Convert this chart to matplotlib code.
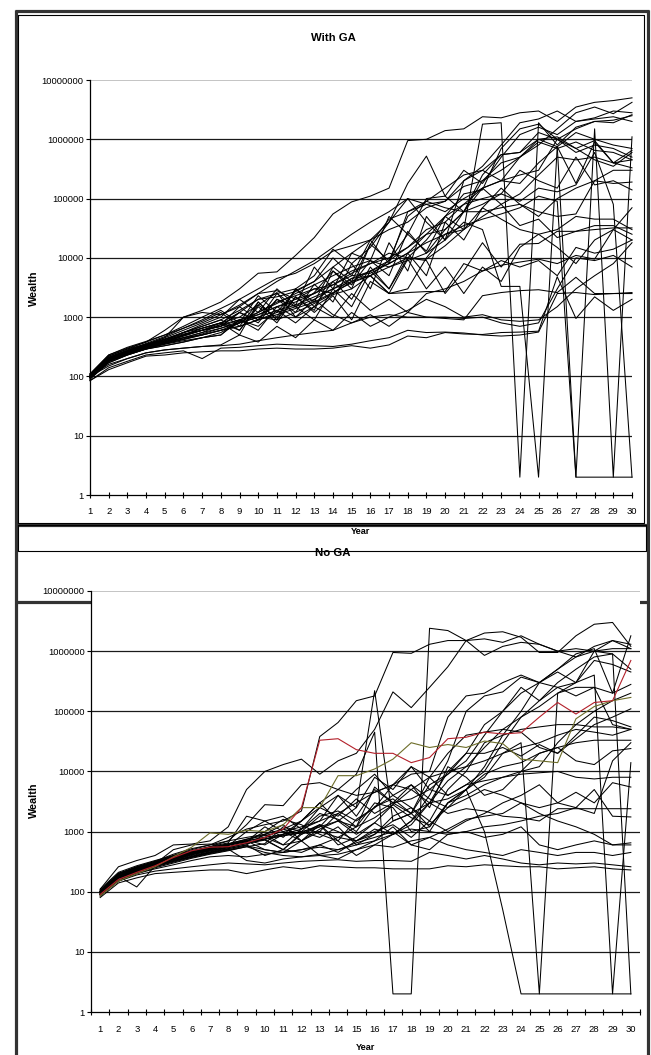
import matplotlib
matplotlib.use("Agg")
import matplotlib.pyplot as plt
from matplotlib.ticker import FixedLocator, FixedFormatter, NullLocator

plt.rcParams['font.family'] = ['Liberation Sans', 'DejaVu Sans']

years = list(range(1, 31))
ytick_vals = [1, 10, 100, 1000, 10000, 100000, 1000000, 10000000]
ytick_labels = ["1", "10", "100", "1000", "10000", "100000", "1000000", "10000000"]
xtick_labels = [str(y) for y in years]
title_top = "With GA"
title_bottom = "No GA"
xlabel = "Year"
ylabel = "Wealth"

# ---------------- With GA ----------------
ga_01 = [100,220,290,380,600,1000,1300,1800,3000,5500,5800,11000,22000,55000,88000,110000,150000,950000,1000000,1400000,1500000,2400000,2300000,2800000,3000000,2000000,3500000,4200000,4500000,5000000]
ga_02 = [100,200,260,330,400,500,650,800,1200,2000,2200,2700,4000,7000,12000,20000,40000,180000,520000,110000,60000,250000,550000,600000,1000000,1100000,700000,950000,400000,450000]
ga_03 = [95,180,240,290,330,380,450,550,800,1200,1800,2300,3000,3500,5500,8000,12000,10000,9500,16000,30000,1800000,1900000,2,1900000,800000,1600000,2000000,1900000,2600000]
ga_04 = [100,190,250,310,360,420,500,600,700,900,1100,1400,1800,2600,3800,5000,7000,9000,12000,20000,40000,30000,3300,3300,2,750000,180000,900000,400000,650000]
ga_05 = [100,200,260,320,380,450,500,600,700,900,1200,1500,2000,3000,4500,6000,9000,15000,30000,40000,80000,150000,200000,180000,400000,750000,2,2,2,2]
ga_06 = [105,200,260,330,400,500,600,700,900,1100,1500,2000,2500,3500,5000,5500,8000,12000,18000,25000,35000,45000,55000,70000,110000,90000,2,1500000,2,1100000]
ga_07 = [95,180,250,310,370,430,520,650,850,1100,1500,1800,2500,4000,6000,8000,10000,15000,25000,50000,80000,100000,120000,90000,150000,130000,170000,600000,80000,2]
ga_08 = [85,130,170,220,230,250,260,270,270,290,300,290,290,300,330,300,340,480,450,550,520,510,550,560,580,4800,950,2200,1300,2000]
ga_09 = [100,150,200,250,280,300,320,330,350,400,450,500,550,600,800,1000,1100,1000,1000,950,900,2300,2600,2800,2900,2600,4700,2500,2500,2500]
ga_10 = [110,170,230,290,330,380,450,500,900,600,1500,1000,2000,1100,800,1100,700,1200,1000,1000,950,1000,800,700,800,3000,10000,9000,11000,7000]
ga_11 = [95,190,240,300,350,420,500,600,800,1000,900,1200,1700,2500,4000,5000,2500,2600,2700,2700,8000,6000,7500,8500,9500,8000,11000,9500,30000,20000]
ga_12 = [100,200,260,310,380,480,600,700,1200,800,2000,1500,900,3000,1500,6000,3000,10000,9000,2500,6000,18000,7000,17000,17500,28000,28000,35000,35000,25000]
ga_13 = [105,210,270,330,420,550,700,900,600,1500,800,2200,1200,2300,900,4000,2500,9500,3000,7000,2500,7000,4000,15000,25000,30000,50000,45000,45000,30000]
ga_14 = [90,180,240,300,380,500,650,800,1000,1600,2600,1000,1500,2400,3000,5000,2500,3000,10000,25000,30000,50000,80000,35000,45000,22000,28000,30000,32000,32000]
ga_15 = [100,200,250,320,400,550,650,800,500,1800,900,3000,1500,4000,2000,7000,3000,12000,5000,40000,20000,70000,45000,30000,25000,15000,8000,20000,30000,70000]
ga_16 = [100,190,250,330,420,520,600,700,1200,900,2500,1500,2600,6000,3500,9000,5000,28000,12000,30000,60000,80000,120000,300000,200000,150000,500000,170000,200000,140000]
ga_17 = [95,180,240,300,380,450,550,750,1500,900,2000,1200,3600,1800,8000,3000,18000,6000,50000,20000,60000,60000,70000,80000,60000,50000,55000,200000,180000,190000]
ga_18 = [100,210,270,340,450,600,800,1100,1600,2500,2800,2000,3000,2500,4500,5000,9000,25000,13000,50000,30000,70000,150000,80000,50000,100000,150000,200000,300000,300000]
ga_19 = [100,200,270,360,470,650,900,1300,800,2300,1200,2800,4000,10000,5000,20000,8000,60000,90000,70000,60000,150000,80000,120000,250000,500000,450000,500000,400000,330000]
ga_20 = [105,220,290,350,420,550,700,900,1300,2000,2500,3000,5000,14000,8000,15000,40000,100000,40000,20000,200000,300000,200000,500000,900000,700000,900000,650000,600000,450000]
ga_21 = [110,230,300,380,500,650,850,1200,700,1800,900,2200,1300,6000,3000,17000,45000,60000,80000,60000,100000,150000,200000,250000,300000,1000000,600000,800000,700000,500000]
ga_22 = [100,200,260,320,400,500,600,750,900,1200,1700,2500,3500,5000,7000,9000,7000,10000,20000,50000,120000,140000,700000,1500000,1800000,1000000,700000,450000,350000,600000]
ga_23 = [90,170,230,290,360,450,550,650,800,1000,1300,1600,2200,3000,4000,6000,8000,12000,25000,30000,60000,200000,400000,500000,1000000,750000,1300000,1000000,800000,700000]
ga_24 = [100,200,270,340,430,550,750,1000,2000,1200,3000,1600,7000,3000,12000,9000,50000,25000,100000,110000,300000,180000,500000,1200000,1600000,1200000,2000000,2200000,2400000,2000000]
ga_25 = [95,190,250,310,380,480,600,800,600,1600,1000,3000,1800,7000,4000,17000,9000,50000,90000,150000,250000,300000,550000,600000,1300000,1000000,1500000,2000000,2100000,2500000]
ga_26 = [100,210,280,350,450,1000,1200,1100,1500,2500,4000,6000,9000,15000,25000,40000,60000,100000,80000,90000,200000,350000,800000,1900000,2200000,3000000,2000000,2300000,3000000,2800000]
ga_27 = [110,230,310,390,500,700,1000,1400,2000,3000,4500,5500,8000,13000,16000,20000,30000,40000,70000,90000,160000,200000,300000,500000,800000,1500000,2800000,3500000,2700000,4200000]
ga_28 = [95,180,230,290,350,400,450,500,900,700,1300,800,1500,1000,2500,1300,2000,1200,2500,3000,4000,6000,9000,7000,9000,5000,15000,12000,14000,20000]
ga_29 = [85,140,180,230,250,270,200,300,310,330,350,340,330,320,350,400,450,600,550,560,540,500,480,500,560,2500,2600,2400,2500,2600]
ga_30 = [100,160,200,250,280,300,320,340,500,380,700,450,900,600,1200,700,1000,1300,2000,1500,1000,1100,900,850,900,1500,3000,5000,8000,18000]

with_ga = [ga_01, ga_02, ga_03, ga_04, ga_05, ga_06, ga_07, ga_08, ga_09, ga_10,
           ga_11, ga_12, ga_13, ga_14, ga_15, ga_16, ga_17, ga_18, ga_19, ga_20,
           ga_21, ga_22, ga_23, ga_24, ga_25, ga_26, ga_27, ga_28, ga_29, ga_30]

# ---------------- No GA ----------------
no_red = [90,160,210,270,370,480,550,560,650,800,1100,2500,33000,35000,23000,20000,20000,14000,17000,35000,37000,45000,42000,44000,80000,140000,90000,140000,150000,700000]
no_olive = [85,150,200,260,380,550,950,900,1050,1000,1300,2500,2500,8500,8500,11000,16000,30000,25000,28000,25000,32000,29000,16000,15000,14000,75000,120000,150000,170000]
no_01 = [95,180,240,300,400,500,600,800,1100,1300,1500,2200,38000,65000,150000,180000,950000,920000,1300000,1500000,1500000,1600000,1400000,1800000,1300000,1000000,800000,1000000,1500000,1100000]
no_02 = [100,200,260,320,420,520,600,700,800,900,1100,1500,3000,5000,9000,45000,2,2,2400000,2200000,1500000,850000,1200000,1400000,1300000,1000000,1100000,1000000,1100000,1100000]
no_03 = [110,260,330,400,600,620,700,1200,5000,10000,13000,16000,9000,15000,20000,50000,210000,115000,250000,550000,1500000,2000000,2100000,1700000,950000,950000,1800000,2800000,3000000,1200000]
no_04 = [90,170,220,280,350,420,480,550,650,750,850,1000,1200,1500,2500,220000,1500,2000,3000,3500,5000,8000,20000,25000,30000,40000,50000,45000,40000,50000]
no_05 = [90,170,230,290,360,430,500,600,700,800,900,1000,800,1200,600,900,1800,2500,1200,3000,5000,1000,50,2,2,2,2,2,2,2]
no_06 = [100,190,250,300,380,450,520,600,700,800,600,1100,2000,1600,1000,2600,3500,2000,8000,10000,12000,15000,20000,30000,2,200000,250000,250000,60000,50000]
no_07 = [95,180,230,290,350,420,480,550,650,750,900,1100,1500,4000,2500,8000,5000,12000,8000,4000,6000,10000,30000,80000,120000,200000,300000,400000,2,14000]
no_08 = [90,170,220,280,340,400,460,540,640,740,500,950,1300,700,400,600,900,1500,3000,7000,12000,25000,50000,80000,150000,300000,500000,800000,900000,2]
no_09 = [100,200,250,310,380,450,520,600,680,1000,1600,1300,900,700,1600,2500,6000,12000,5000,9000,20000,60000,100000,200000,300000,500000,900000,1100000,200000,1800000]
no_10 = [80,140,170,200,210,220,230,230,200,230,260,240,270,260,250,250,240,240,240,270,260,280,270,260,260,240,250,260,240,230]
no_11 = [90,150,190,220,240,260,280,300,290,280,300,320,330,340,320,330,330,320,450,400,350,400,350,300,280,300,290,300,280,260]
no_12 = [85,160,200,240,280,330,380,400,380,420,450,500,550,500,600,700,900,1100,1000,900,1000,1200,1300,1500,1800,2000,2500,5000,1800,1750]
no_13 = [100,180,230,290,350,420,500,600,700,500,450,700,1300,600,800,1400,900,1300,3000,2000,2400,2200,1800,1700,1500,2400,2400,2400,2400,2400]
no_14 = [95,180,120,270,330,380,450,520,600,900,1300,700,400,350,500,700,1200,600,800,1100,1600,1800,2000,3000,2500,3000,4500,3000,6500,5500]
no_15 = [105,190,240,290,360,430,500,580,1000,1500,1800,1100,2500,4000,1800,5000,3000,3500,5000,4000,6000,7000,8000,9000,9500,10000,8000,7500,8000,8000]
no_16 = [90,170,220,280,340,410,480,560,650,750,850,950,1000,800,1200,5500,3000,6000,2500,12000,8000,4000,5000,10000,20000,25000,15000,13000,22000,24000]
no_17 = [100,200,250,300,360,430,520,620,750,900,600,700,1000,2000,1200,3000,2500,1000,1200,3000,5000,9000,12000,14000,20000,25000,30000,33000,33000,33000]
no_18 = [95,170,220,270,320,380,440,500,580,500,450,500,600,450,700,1000,1300,800,1500,5000,10000,30000,40000,50000,55000,60000,60000,55000,55000,50000]
no_19 = [110,210,270,330,400,480,560,700,1300,2800,2700,6000,6500,5000,4000,4500,6000,5000,8000,20000,40000,45000,50000,45000,25000,20000,40000,80000,70000,55000]
no_20 = [100,180,240,300,370,440,510,590,680,1200,800,1500,3000,1500,1200,1700,2800,5000,3000,10000,20000,20000,25000,18000,28000,20000,35000,60000,80000,110000]
no_21 = [90,160,210,260,320,380,450,520,600,400,500,450,600,800,700,1100,900,1500,4000,15000,100000,180000,210000,370000,300000,250000,180000,250000,200000,280000]
no_22 = [105,200,260,320,390,470,560,650,1800,1500,1000,1200,1500,2000,3000,4500,6000,9000,10000,80000,180000,200000,300000,400000,300000,450000,300000,700000,600000,450000]
no_23 = [95,180,240,300,370,450,530,620,720,600,900,1500,2500,1800,3500,2000,3000,2000,6000,9000,15000,40000,100000,250000,150000,250000,300000,1000000,900000,500000]
no_24 = [100,190,250,310,380,460,540,630,740,860,1000,700,1100,1500,900,1400,2800,1700,1300,2500,5000,12000,40000,100000,300000,500000,800000,1200000,1500000,1300000]
no_25 = [85,150,200,250,300,360,420,480,560,450,400,380,420,500,650,800,1000,600,500,900,1000,800,900,1200,600,500,600,700,600,650]
no_26 = [100,170,220,270,330,390,450,510,330,300,350,380,400,420,500,600,550,700,800,600,500,450,400,500,450,400,450,450,400,450]
no_27 = [90,170,210,260,310,370,430,490,560,630,1200,1000,1800,2200,1500,2500,4000,6000,3500,2500,3500,5000,4000,3000,2000,1500,1200,900,600,600]
no_28 = [95,190,240,290,500,600,620,560,640,720,500,900,1200,2500,5000,9000,4000,2500,1500,1000,1500,2000,3000,4000,6000,3000,2500,2000,15000,30000]
no_29 = [100,200,250,300,360,420,480,550,630,800,1100,900,1300,1000,700,900,1500,2000,1000,3000,4000,6000,8000,10000,12000,30000,60000,100000,150000,200000]

no_ga = [no_01, no_02, no_03, no_04, no_05, no_06, no_07, no_08, no_09, no_10,
         no_11, no_12, no_13, no_14, no_15, no_16, no_17, no_18, no_19, no_20,
         no_21, no_22, no_23, no_24, no_25, no_26, no_27, no_28, no_29]

W, H = 651, 1055
fig = plt.figure(figsize=(W / 100, H / 100), dpi=100)
fig.patch.set_facecolor('white')

# background decoration (frames)
bg = fig.add_axes([0, 0, 1, 1])
bg.set_xlim(0, W)
bg.set_ylim(H, 0)
bg.axis('off')
bg.set_zorder(0)
thick = dict(color='#333333', lw=2.3, solid_capstyle='butt')
thin = dict(color='black', lw=0.8, solid_capstyle='butt')
bg.plot([15.5, 15.5], [9.5, H], **thick)
bg.plot([648, 648], [9.5, H], **thick)
bg.plot([14.5, 649], [10.8, 10.8], **thick)
bg.plot([14.5, 649], [525, 525], **thick)
bg.plot([14.5, 649], [602, 602], **thick)
bg.plot([17.5, 643.5, 643.5, 17.5, 17.5], [15.2, 15.2, 523, 523, 15.2], **thin)
bg.plot([17.5, 646, 646, 17.5, 17.5], [525, 525, 551, 551, 525], **thin)


def px_axes(x0, x1, y0, y1):
    return fig.add_axes([x0 / W, 1 - y1 / H, (x1 - x0) / W, (y1 - y0) / H])


def style(ax):
    ax.set_yscale('log')
    ax.set_ylim(1, 1e7)
    ax.yaxis.set_major_locator(FixedLocator(ytick_vals))
    ax.yaxis.set_major_formatter(FixedFormatter(ytick_labels))
    ax.yaxis.set_minor_locator(NullLocator())
    for v in ytick_vals[1:-1]:
        ax.axhline(v, color='#1a1a1a', lw=0.9, zorder=1)
    ax.axhline(1e7, color='#c4c4c4', lw=1.4, zorder=1)
    for s in ['top', 'right']:
        ax.spines[s].set_visible(False)
    for s in ['left', 'bottom']:
        ax.spines[s].set_color('black')
        ax.spines[s].set_linewidth(0.9)
        ax.spines[s].set_zorder(3)
    ax.tick_params(axis='y', direction='out', length=3, width=0.8, pad=1.5,
                   labelsize=6.8, colors='black')
    ax.set_facecolor('white')
    ax.set_zorder(2)


# ---------------- top panel ----------------
ax1 = px_axes(90, 632, 80, 495)
style(ax1)
ax1.set_xlim(1, 30)
ax1.xaxis.set_major_locator(FixedLocator(years))
ax1.xaxis.set_major_formatter(FixedFormatter(xtick_labels))
ax1.xaxis.set_minor_locator(NullLocator())
ax1.tick_params(axis='x', direction='inout', length=4.5, width=0.8, pad=6.5,
                labelsize=6.8, colors='black')
for s in with_ga:
    ax1.plot(years, s, color='black', lw=0.75, zorder=2, clip_on=False)

# ---------------- bottom panel ----------------
ax2 = px_axes(91, 640, 591, 1012)
style(ax2)
ax2.set_xlim(0.5, 30.5)
ax2.xaxis.set_major_locator(FixedLocator(years))
ax2.xaxis.set_major_formatter(FixedFormatter(xtick_labels))
ax2.xaxis.set_minor_locator(FixedLocator([y - 0.5 for y in years] + [30.5]))
ax2.tick_params(axis='x', which='major', length=0, pad=9.5, labelsize=6.8, colors='black')
ax2.tick_params(axis='x', which='minor', direction='inout', length=4.5, width=0.8)
for s in no_ga:
    ax2.plot(years, s, color='black', lw=0.75, zorder=2, clip_on=False)
ax2.plot(years, no_olive, color='#6e6e2a', lw=0.8, zorder=2.5)
ax2.plot(years, no_red, color='#b3202a', lw=0.8, zorder=2.6)


def ptext(x, y, s, **kw):
    fig.text(x / W, 1 - y / H, s, ha='center', va='center', **kw)


ptext(333, 38, title_top, fontsize=8.2, fontweight='bold')
ptext(333, 553, title_bottom, fontsize=8.2, fontweight='bold')
ptext(361, 532, xlabel, fontsize=6.6, fontweight='bold')
ptext(365.5, 1047, xlabel, fontsize=6.6, fontweight='bold')
ptext(34, 288, ylabel, fontsize=7.8, fontweight='bold', rotation=90)
ptext(34, 800, ylabel, fontsize=7.8, fontweight='bold', rotation=90)

fig.savefig('out.png', dpi=100, facecolor='white')
